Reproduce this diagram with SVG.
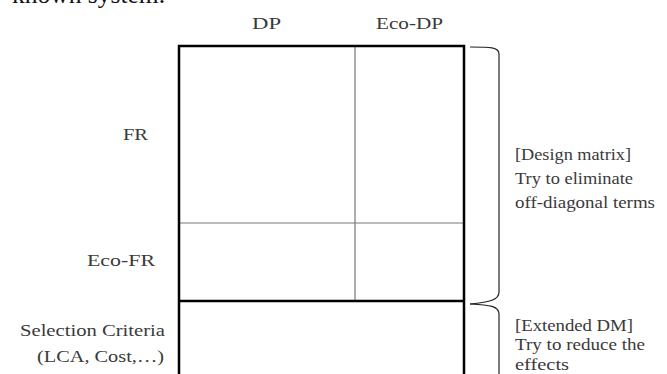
<svg xmlns="http://www.w3.org/2000/svg" width="667" height="374" viewBox="0 0 667 374">
<style>
  .t { font-family: "Liberation Serif", "DejaVu Serif", serif; font-size: 16px; fill: #3a3a3a; }
  .r { text-anchor: end; }
  .thick { stroke: #000; stroke-width: 2.5; fill: none; }
  .thin { stroke: #777; stroke-width: 1.2; fill: none; }
  .brace { stroke: #222; stroke-width: 1.2; fill: none; }
</style>
<rect width="667" height="374" fill="#fff"/>
<text x="12" y="3" textLength="153" lengthAdjust="spacingAndGlyphs" style="font-family:'Liberation Serif',serif;font-size:25px;fill:#111">known system.</text>
<g id="col-labels">
  <text class="t" x="252" y="29" textLength="29" lengthAdjust="spacingAndGlyphs">DP</text>
  <text class="t" x="376" y="29" textLength="67" lengthAdjust="spacingAndGlyphs">Eco-DP</text>
</g>
<g id="row-labels">
  <text class="t" x="123" y="140" textLength="25" lengthAdjust="spacingAndGlyphs">FR</text>
  <text class="t" x="87" y="266" textLength="68" lengthAdjust="spacingAndGlyphs">Eco-FR</text>
  <text class="t" x="20" y="336" textLength="145" lengthAdjust="spacingAndGlyphs">Selection Criteria</text>
  <text class="t" x="37" y="362" textLength="127" lengthAdjust="spacingAndGlyphs">(LCA, Cost,…)</text>
</g>
<g id="matrix">
  <line class="thin" x1="355" y1="46" x2="355" y2="301"/>
  <line class="thin" x1="179" y1="223" x2="464" y2="223"/>
  <line class="thick" x1="179" y1="301" x2="464" y2="301"/>
  <path class="thick" d="M179,380 V46 H464 V380"/>
</g>
<g id="connectors">
  <path class="brace" d="M470,47 C490,47 499,47 499,54 V292 C499,300 490,302 470,304"/>
  <path class="brace" d="M470,304 C490,305 499,306 499,314 V380"/>
</g>
<g id="annotations">
  <text class="t" x="515" y="160" textLength="116" lengthAdjust="spacingAndGlyphs">[Design matrix]</text>
  <text class="t" x="515" y="184" textLength="118" lengthAdjust="spacingAndGlyphs">Try to eliminate</text>
  <text class="t" x="515" y="208" textLength="140" lengthAdjust="spacingAndGlyphs">off-diagonal terms</text>
  <text class="t" x="515" y="331" textLength="118" lengthAdjust="spacingAndGlyphs">[Extended DM]</text>
  <text class="t" x="515" y="350" textLength="130" lengthAdjust="spacingAndGlyphs">Try to reduce the</text>
  <text class="t" x="515" y="370" textLength="54" lengthAdjust="spacingAndGlyphs">effects</text>
</g>
</svg>
